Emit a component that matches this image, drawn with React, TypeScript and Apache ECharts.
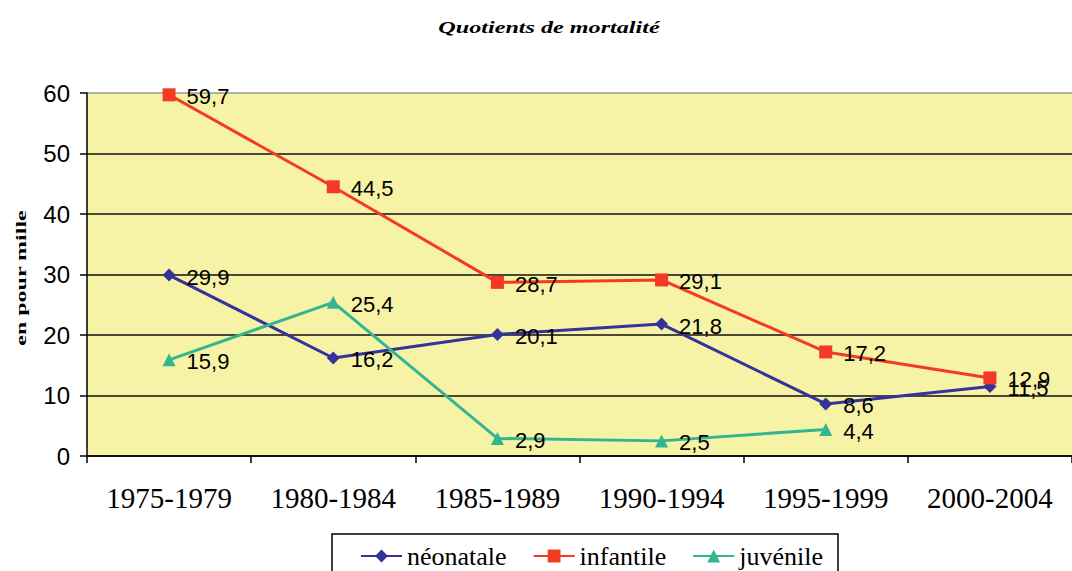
import React, { useEffect, useRef } from "react";
import * as echarts from "echarts";

const categories = ["1975-1979", "1980-1984", "1985-1989", "1990-1994", "1995-1999", "2000-2004"];
const neonatale = [29.9, 16.2, 20.1, 21.8, 8.6, 11.5];
const infantile = [59.7, 44.5, 28.7, 29.1, 17.2, 12.9];
const juvenile = [15.9, 25.4, 2.9, 2.5, 4.4, null];
const seriesNames = ["néonatale", "infantile", "juvénile"];
const yTicks = { min: 0, max: 60, interval: 10 };

const colors = ["#333399", "#F23A24", "#33B592"];

export default function App() {
  const ref = useRef<HTMLDivElement>(null);
  useEffect(() => {
    if (!ref.current) return;
    const chart = echarts.init(ref.current, null, { renderer: "svg" });
    const label = {
      show: true,
      position: "right",
      distance: 11,
      offset: [0, 2],
      color: "#000",
      fontSize: 22,
      fontFamily: "Liberation Sans",
      formatter: (p: any) => String(p.value).replace(".", ","),
    };
    const mk = (name: string, data: any[], color: string, symbol: string, size: number) => ({
      name,
      type: "line",
      data,
      symbol,
      symbolSize: size,
      showAllSymbol: true,
      lineStyle: { color, width: 3 },
      itemStyle: { color },
      label,
      z: 3,
    });
    chart.setOption({
      animation: false,
      backgroundColor: "#fff",
      grid: {
        left: 87,
        right: -11,
        top: 93,
        bottom: 115,
        show: true,
        backgroundColor: "#F7F3A6",
        borderWidth: 0,
      },
      legend: {
        data: seriesNames,
        left: 355,
        top: 538,
        itemWidth: 41,
        itemHeight: 16,
        itemGap: 26,
        textStyle: { fontSize: 26, fontFamily: "Liberation Serif", color: "#000" },
      },
      graphic: [
        {
          type: "rect",
          shape: { x: 332, y: 534, width: 506, height: 60 },
          style: { fill: "#fff", stroke: "#000", lineWidth: 1.5 },
          z: -1,
        },
        {
          type: "text",
          x: 549,
          y: 27,
          scaleX: 1.38,
          style: {
            text: "Quotients de mortalité",
            fontFamily: "Liberation Serif",
            fontSize: 17.5,
            fontWeight: "bold",
            fontStyle: "italic",
            fill: "#000",
            textAlign: "center",
            textVerticalAlign: "middle",
          },
        },
        {
          type: "text",
          x: 21,
          y: 278,
          rotation: Math.PI / 2,
          scaleY: 0.62,
          style: {
            text: "en pour mille",
            fontFamily: "Liberation Serif",
            fontSize: 24,
            fontWeight: "bold",
            fill: "#000",
            textAlign: "center",
            textVerticalAlign: "middle",
          },
        },
      ],
      xAxis: {
        type: "category",
        data: categories,
        boundaryGap: true,
        axisLine: { lineStyle: { color: "#000", width: 1.5 } },
        axisTick: { show: true, length: 7, lineStyle: { color: "#000", width: 1.5 } },
        axisLabel: { fontSize: 29, fontFamily: "Liberation Serif", color: "#000", margin: 27 },
      },
      yAxis: {
        type: "value",
        min: yTicks.min,
        max: yTicks.max,
        interval: yTicks.interval,
        axisLine: { show: true, lineStyle: { color: "#000", width: 1.5 } },
        axisTick: { show: true, length: 7, lineStyle: { color: "#000", width: 1.5 } },
        axisLabel: { fontSize: 24, fontFamily: "Liberation Sans", color: "#000", margin: 17 },
        splitLine: {
          show: true,
          lineStyle: { color: ["#000", "#111", "#111", "#111", "#111", "#111", "#999"], width: 1.5 },
        },
      },
      series: [
        mk(seriesNames[0], neonatale, colors[0], "diamond", 13),
        mk(seriesNames[1], infantile, colors[1], "rect", 13),
        mk(seriesNames[2], juvenile, colors[2], "triangle", 13),
      ],
    });
    return () => chart.dispose();
  }, []);
  return (
    <div
      ref={ref}
      style={{ position: "fixed", left: 0, top: 0, width: 1072, height: 571 }}
    />
  );
}
